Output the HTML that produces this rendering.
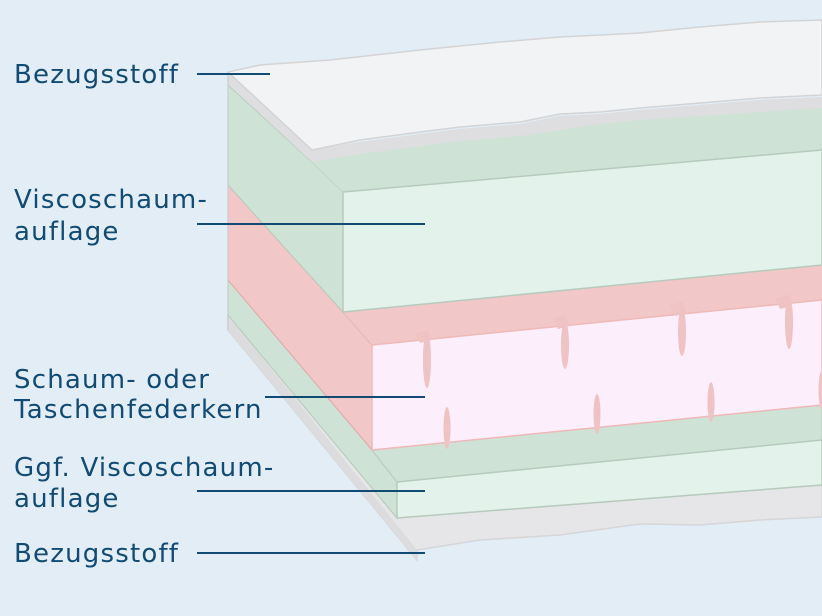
<!DOCTYPE html>
<html><head><style>
html,body{margin:0;padding:0;background:#e2edf6;}
svg{display:block}
text{font-family:"DejaVu Sans","Liberation Sans",sans-serif;font-size:26px;letter-spacing:1.2px;fill:#114a72;}
</style></head><body>
<svg width="822" height="616" viewBox="0 0 822 616">
<rect width="822" height="616" fill="#e2edf6"/>
<!-- bottom cover -->
<polygon points="228,315 397,518 822,485 822,517 760,520 700,525 640,524 560,535 480,540 417,550 417,560 228,330" fill="#e6e6e8" stroke="#d6d6d8" stroke-width="1.5"/>
<polygon points="228,315 417,550 417,560 228,330" fill="#dcdcde"/>
<!-- bottom green -->
<polygon points="228,280 372,450 397,482 397,518 228,315" fill="#cfe2d6" stroke="#b6cbbd" stroke-width="1"/>
<polygon points="372,450 822,405 822,440 397,482" fill="#cfe2d6" stroke="#b6cbbd" stroke-width="1"/>
<polygon points="397,482 822,440 822,485 397,518" fill="#e3f2ea" stroke="#b6cbbd" stroke-width="1.5"/>
<!-- pink -->
<polygon points="228,185 343,312 372,345 372,450 228,280" fill="#f2c7c7" stroke="#e0aaaa" stroke-width="1"/>
<polygon points="343,312 822,265 822,300 372,345" fill="#f2c7c7"/>
<polygon points="372,345 822,300 822,405 372,450" fill="#fdeefb" stroke="#efb9b9" stroke-width="1.5"/>
<g fill="#efc3c3">
<ellipse cx="427" cy="360" rx="4" ry="28"/><polygon points="415,333 427,330 432,340 420,343"/>
<ellipse cx="565" cy="345" rx="4" ry="24"/><polygon points="553,318 565,315 570,326 558,329"/>
<ellipse cx="682" cy="332" rx="4" ry="24"/><polygon points="670,305 682,302 687,313 675,316"/>
<ellipse cx="789" cy="322" rx="4" ry="27"/><polygon points="775,298 787,295 792,306 780,309"/>
<ellipse cx="447" cy="428" rx="3.5" ry="21"/>
<ellipse cx="597" cy="414" rx="3.5" ry="20"/>
<ellipse cx="711" cy="402" rx="3.5" ry="20"/>
<ellipse cx="822" cy="390" rx="3.5" ry="20"/>
</g>
<!-- top green -->
<polygon points="228,85 312,162 343,192 343,312 228,185" fill="#cfe2d6" stroke="#b6cbbd" stroke-width="1"/>
<polygon points="312,150 360,142 420,134 460,129 520,124 560,116 600,114 640,110 700,105 760,100 822,97 822,150 343,192 312,162" fill="#cfe2d6"/>
<polygon points="343,192 822,150 822,265 343,312" fill="#e3f2ea" stroke="#b6cbbd" stroke-width="1.5"/>
<!-- cover thickness -->
<polygon points="228,72 312,150 360,142 420,134 460,129 520,124 560,116 600,114 640,110 700,105 760,100 822,97 822,108 760,112 700,116 640,120 600,124 560,130 520,136 460,141 420,146 360,154 312,162 228,84" fill="#dedee0"/>
<!-- top cover -->
<polygon points="228,72 260,65 330,60 420,50 500,42 560,37 640,33 700,27 760,22 822,20 822,95 760,98 700,103 640,108 600,112 560,114 520,122 460,127 420,132 360,140 312,150" fill="#f2f3f5" stroke="#d4d4d6" stroke-width="1.5"/>
<line x1="228" y1="72" x2="228" y2="330" stroke="#c6c9c9" stroke-width="1"/>
<!-- labels -->
<g stroke="#114a72" stroke-width="2">
<line x1="197" y1="74" x2="270" y2="74"/>
<line x1="197" y1="224" x2="425" y2="224"/>
<line x1="265" y1="397" x2="425" y2="397"/>
<line x1="197" y1="491" x2="425" y2="491"/>
<line x1="197" y1="553" x2="425" y2="553"/>
</g>
<text x="14" y="83">Bezugsstoff</text>
<text x="14" y="208">Viscoschaum-</text>
<text x="14" y="240">auflage</text>
<text x="14" y="388">Schaum- oder</text>
<text x="14" y="418">Taschenfederkern</text>
<text x="14" y="476">Ggf. Viscoschaum-</text>
<text x="14" y="507">auflage</text>
<text x="14" y="562">Bezugsstoff</text>
</svg>
</body></html>
